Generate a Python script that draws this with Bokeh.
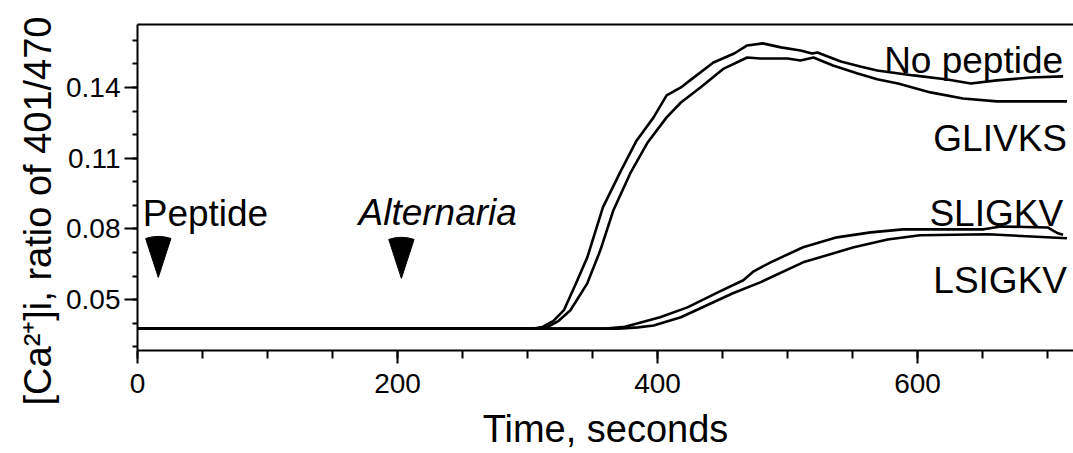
import math
from bokeh.plotting import figure
from bokeh.models import Range1d, FixedTicker, LinearAxis, Label, Title
from bokeh.embed import file_html
from bokeh.resources import INLINE

# ---- data ----
nopep_t = [0, 305, 312, 320, 328, 337, 346, 358, 372, 384, 397, 407, 418, 425, 443, 459, 469, 481,
           495, 510, 519, 523, 541, 556, 569, 597, 623, 641, 661, 687, 712]
nopep_v = [0.0377, 0.0377, 0.0385, 0.0410, 0.0455, 0.0565, 0.0679, 0.0891, 0.1048, 0.1175, 0.1273,
           0.1366, 0.1400, 0.1430, 0.1506, 0.1544, 0.1578, 0.1587, 0.1570, 0.1557, 0.1544, 0.1548,
           0.1510, 0.1489, 0.1472, 0.1451, 0.1434, 0.1417, 0.1430, 0.1442, 0.1447]

glivks_t = [0, 308, 316, 324, 333, 346, 356, 366, 379, 392, 407, 418, 433, 451, 469, 479, 500, 510,
            520, 535, 554, 569, 585, 610, 635, 661, 687, 715]
glivks_v = [0.0377, 0.0377, 0.0385, 0.0410, 0.0455, 0.0569, 0.0709, 0.0878, 0.1035, 0.1163, 0.1273,
            0.1336, 0.1400, 0.1480, 0.1527, 0.1523, 0.1523, 0.1514, 0.1527, 0.1493, 0.1459, 0.1435,
            0.1417, 0.1379, 0.1353, 0.1341, 0.1341, 0.1341]

sligkv_t = [0, 360, 375, 385, 402, 423, 448, 466, 474, 487, 512, 538, 564, 589, 628, 651, 664, 700,
            708, 712]
sligkv_v = [0.0377, 0.0377, 0.0385, 0.0400, 0.0425, 0.0467, 0.0535, 0.0582, 0.0620, 0.0658, 0.0722,
            0.0764, 0.0785, 0.0798, 0.0798, 0.0798, 0.0810, 0.0806, 0.0781, 0.0775]

lsigkv_t = [0, 370, 385, 397, 418, 438, 458, 479, 512, 551, 577, 602, 654, 715]
lsigkv_v = [0.0377, 0.0377, 0.0382, 0.0390, 0.0425, 0.0476, 0.0527, 0.0573, 0.0658, 0.0722, 0.0755,
            0.0773, 0.0777, 0.0760]

arrow_t = [16, 203]          # additions: Peptide, Alternaria
arrow_tip = [0.0594, 0.0590]

x_major = [0, 200, 400, 600]
x_minor = list(range(0, 751, 50))
y_major = [0.05, 0.08, 0.11, 0.14]
y_major_labels = {0.05: "0.05", 0.08: "0.08", 0.11: "0.11", 0.14: "0.14"}
y_minor = [round(0.03 + 0.01 * i, 2) for i in range(14)]

FONT = "Liberation Sans"

p = figure(width=1073, height=453, output_backend="svg", toolbar_location=None,
           x_range=Range1d(0, 720), y_range=Range1d(0.0284, 0.1667),
           min_border_left=137, min_border_right=0, min_border_top=24, min_border_bottom=103)
p.outline_line_color = None
p.xgrid.visible = False
p.ygrid.visible = False
p.background_fill_color = "white"
p.border_fill_color = "white"

for xs, ys in [(nopep_t, nopep_v), (glivks_t, glivks_v), (sligkv_t, sligkv_v), (lsigkv_t, lsigkv_v)]:
    p.line(xs, ys, line_color="black", line_width=2.6)

p.wedge(x=arrow_t, y=arrow_tip, radius=41, radius_units="screen",
        start_angle=math.radians(72), end_angle=math.radians(108),
        fill_color="black", line_color="black")

# axes styling
xa = p.xaxis[0]
xa.ticker = FixedTicker(ticks=x_major, minor_ticks=x_minor)
xa.axis_label = "Time, seconds"
ya = p.yaxis[0]
ya.ticker = FixedTicker(ticks=y_major, minor_ticks=y_minor)
ya.major_label_overrides = y_major_labels

for ax in (xa, ya):
    ax.axis_line_width = 2
    ax.axis_line_color = "black"
    ax.major_tick_line_width = 2
    ax.minor_tick_line_width = 2
    ax.major_tick_line_color = "black"
    ax.minor_tick_line_color = "black"
    ax.major_tick_in = 0
    ax.minor_tick_in = 0
    ax.major_tick_out = 13
    ax.major_label_text_font = FONT
    ax.major_label_text_font_size = "28px"
    ax.major_label_text_color = "black"
    ax.axis_label_text_font = FONT
    ax.axis_label_text_font_size = "38px"
    ax.axis_label_text_font_style = "normal"
    ax.axis_label_text_color = "black"
xa.minor_tick_out = 8
ya.minor_tick_out = 5
xa.major_label_standoff = 10
xa.axis_label_standoff = 12
ya.major_label_standoff = 4

top = LinearAxis(axis_line_width=2, axis_line_color="black", ticker=FixedTicker(ticks=[]),
                 major_tick_line_color=None, minor_tick_line_color=None)
p.add_layout(top, "above")

# y axis title as a left-side title, starting below the frame's bottom
ytitle = Title(text="[Ca²⁺]i, ratio of 401/470", align="left", offset=-55,
               text_font=FONT, text_font_size="38px", text_font_style="normal",
               text_color="black", standoff=10)
p.add_layout(ytitle, "left")

def lab(text, x, y, align="right", style="normal"):
    p.add_layout(Label(x=x, y=y, text=text, text_align=align, text_baseline="alphabetic",
                       text_font=FONT, text_font_size="37px", text_font_style=style,
                       text_color="black"))

lab("No peptide", 712, 0.1514)
lab("GLIVKS", 715, 0.1184)
lab("SLIGKV", 712, 0.0866)
lab("LSIGKV", 715, 0.0582)
lab("Peptide", 4, 0.0866, align="left")
lab("Alternaria", 170, 0.0870, align="left", style="italic")

open("out.html", "w").write(file_html(p, INLINE))
